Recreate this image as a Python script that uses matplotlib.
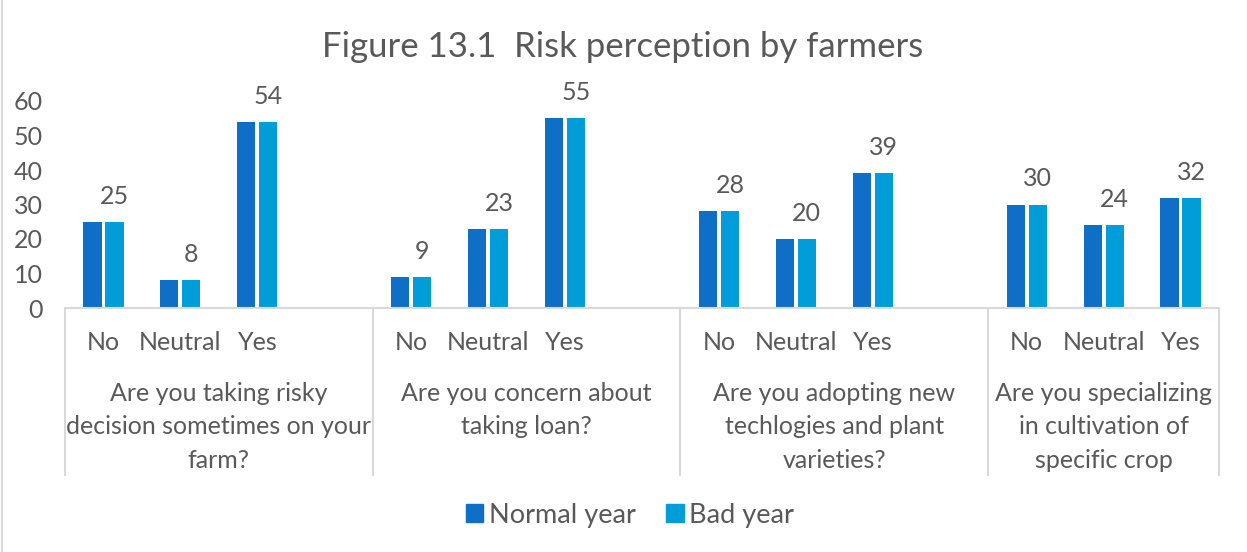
import matplotlib
matplotlib.use("Agg")
import matplotlib.pyplot as plt
from matplotlib.patches import Patch
from matplotlib.lines import Line2D
import numpy as np

plt.rcParams['font.family'] = ['Lato', 'DejaVu Sans']

# Data
questions = [
    "Are you taking risky\ndecision sometimes on your\nfarm?",
    "Are you concern about\ntaking loan?",
    "Are you adopting new\ntechlogies and plant\nvarieties?",
    "Are you specializing\nin cultivation of\nspecific crop",
]
answers = ["No", "Neutral", "Yes"]
normal_year = [25, 8, 54, 9, 23, 55, 28, 20, 39, 30, 24, 32]
bad_year = [25, 8, 54, 9, 23, 55, 28, 20, 39, 30, 24, 32]
series_names = ["Normal year", "Bad year"]
y_ticks = [0, 10, 20, 30, 40, 50, 60]

title = "Figure 13.1  Risk perception by farmers"

C_NORMAL = "#0F6FC6"
C_BAD = "#009DD9"
TXT = "#595959"
LINE = "#D9D9D9"
FS = 18

W, H = 1247, 552
fig = plt.figure(figsize=(W / 100, H / 100), dpi=100)

x0, x1 = 65, 1219
y0, y1 = 308, 101
ax = fig.add_axes([x0 / W, 1 - y0 / H, (x1 - x0) / W, (y0 - y1) / H])

# four slots per question (last question has three)
slots_per_group = 4
n_slots = 15
pos = []
for g in range(len(questions)):
    for i in range(len(answers)):
        pos.append(g * slots_per_group + i)
pos = np.array(pos, dtype=float)

bw = 0.235
off = 0.143
ax.bar(pos - off, normal_year, width=bw, color=C_NORMAL, label=series_names[0])
ax.bar(pos + off, bad_year, width=bw, color=C_BAD, label=series_names[1])

for p, v in zip(pos + off, bad_year):
    ax.annotate(str(v), (p, v), xytext=(0, 13), textcoords="offset points",
                ha="center", va="baseline", fontsize=FS, color=TXT,
                annotation_clip=False)

ax.set_xlim(-0.5, n_slots - 0.5)
ax.set_ylim(0, 60)
ax.set_yticks(y_ticks)
ax.tick_params(axis='y', length=0, labelsize=FS, labelcolor=TXT, pad=16)
ax.set_xticks([])
for s in ax.spines.values():
    s.set_visible(False)

# multi-level category axis
trans = ax.get_xaxis_transform()
fig_tr = fig.transFigure


def axfrac(py):
    return (1 - py / H - (1 - y0 / H)) / ((y0 - y1) / H)


ax.add_line(Line2D([-0.5, n_slots - 0.5], [0, 0], transform=trans,
                   color=LINE, lw=1.5, clip_on=False))
bounds = [-0.5, 3.5, 7.5, 11.5, 14.5]
for b in bounds:
    ax.add_line(Line2D([b, b], [0, axfrac(475)], transform=trans,
                       color=LINE, lw=1.5, clip_on=False))

for i, p in enumerate(pos):
    ax.text(p, axfrac(343), answers[i % 3], transform=trans, ha="center",
            va="center", fontsize=FS, color=TXT)

for g, q in enumerate(questions):
    cx = (bounds[g] + bounds[g + 1]) / 2
    ax.text(cx, axfrac(382), q, transform=trans, ha="center", va="top",
            fontsize=FS, color=TXT, linespacing=1.55)

fig.text(623 / W, 1 - 47 / H, title, ha="center", va="center",
         fontsize=25, color=TXT)

handles = [Patch(color=C_NORMAL), Patch(color=C_BAD)]
fig.legend(handles, series_names, loc="center", bbox_to_anchor=(630 / W, 1 - 515 / H),
           ncol=2, frameon=False, fontsize=19.5, handlelength=0.65, handleheight=0.65,
           handletextpad=0.22, columnspacing=1.1, labelcolor=TXT)

# chart border
fig.add_artist(Line2D([1.5 / W, 1.5 / W], [0, 1], transform=fig_tr, color=LINE, lw=1.5))

fig.savefig("out.png", dpi=100, facecolor="white")
